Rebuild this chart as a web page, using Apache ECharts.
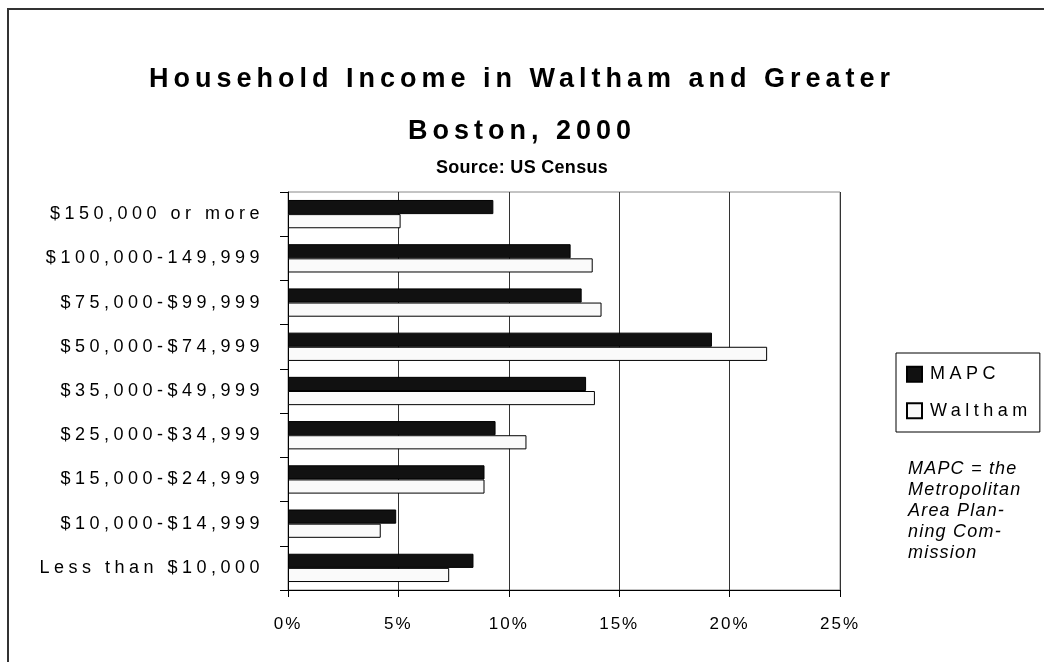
<!DOCTYPE html>
<html>
<head>
<meta charset="utf-8">
<script src="https://cdn.jsdelivr.net/npm/echarts@6/dist/echarts.min.js"></script>
<style>
  html, body { margin: 0; padding: 0; background: #fff; }
  #chart { width: 1044px; height: 662px; }
</style>
</head>
<body>
<div id="chart"></div>
<script>
// income brackets, bottom to top as echarts draws a category y axis
var categories = [
    'Less than $10,000',
    '$10,000-$14,999',
    '$15,000-$24,999',
    '$25,000-$34,999',
    '$35,000-$49,999',
    '$50,000-$74,999',
    '$75,000-$99,999',
    '$100,000-149,999',
    '$150,000 or more'
];
// share of households, percent
var mapcValues    = [8.4, 4.9, 8.9, 9.4, 13.5, 19.2, 13.3, 12.8, 9.3];
var walthamValues = [7.3, 4.2, 8.9, 10.8, 13.9, 21.7, 14.2, 13.8, 5.1];
var xTicks = [0, 5, 10, 15, 20, 25];

var FONT = '"Liberation Sans", Arial, sans-serif';

// the original (old excel export) draws its text widely spaced;
// canvas letterSpacing is set whenever zrender sets a font, so it is
// used both for measuring and for drawing
function spacingFor(font) {
    var size = +((/(\d+)px/.exec(font) || [0, 12])[1]);
    if (/italic/.test(font)) return 1.2;
    if (/bold/.test(font)) return size >= 24 ? 5 : 0.3;
    if (size === 18) return 4.5;
    return 2;
}
var fontProp = Object.getOwnPropertyDescriptor(CanvasRenderingContext2D.prototype, 'font');
if (fontProp && 'letterSpacing' in CanvasRenderingContext2D.prototype) {
    Object.defineProperty(CanvasRenderingContext2D.prototype, 'font', {
        get: fontProp.get,
        set: function (v) {
            fontProp.set.call(this, v);
            this.letterSpacing = spacingFor(v) + 'px';
        },
        configurable: true
    });
}

$chart = echarts.init(document.getElementById('chart'));

var option = {
    backgroundColor: '#fff',
    animation: false,
    title: [
        {
            text: 'Household Income in Waltham and Greater',
            left: 'center', top: 64, padding: 0,
            textStyle: { fontFamily: FONT, fontSize: 27, fontWeight: 'bold', color: '#000' }
        },
        {
            text: 'Boston, 2000',
            left: 'center', top: 116, padding: 0,
            textStyle: { fontFamily: FONT, fontSize: 27, fontWeight: 'bold', color: '#000' }
        },
        {
            text: 'Source: US Census',
            left: 'center', top: 159, padding: 0,
            textStyle: { fontFamily: FONT, fontSize: 18, fontWeight: 'bold', color: '#000' }
        }
    ],
    legend: {
        data: ['MAPC', 'Waltham'],
        orient: 'vertical',
        left: 896, top: 353,
        padding: [10, 8, 10, 10],
        itemGap: 14,
        itemWidth: 15, itemHeight: 15,
        icon: 'rect',
        borderColor: '#000', borderWidth: 1,
        textStyle: { fontFamily: FONT, fontSize: 18, color: '#000', padding: [0, 0, 0, 3] }
    },
    grid: {
        left: 288, right: 204, top: 192, bottom: 72,
        show: true, borderColor: '#888', borderWidth: 1
    },
    xAxis: {
        type: 'value',
        min: xTicks[0], max: xTicks[xTicks.length - 1], interval: 5,
        axisLine: { show: true, lineStyle: { color: '#000' } },
        axisTick: { show: true, length: 7, lineStyle: { color: '#000' } },
        splitLine: { show: true, lineStyle: { color: '#333', width: 1 } },
        axisLabel: {
            formatter: '{value}%', margin: 25,
            fontFamily: FONT, fontSize: 17, color: '#000'
        }
    },
    yAxis: {
        type: 'category',
        data: categories,
        axisLine: { lineStyle: { color: '#000' } },
        axisTick: { show: true, length: 8, lineStyle: { color: '#000' } },
        axisLabel: { margin: 24, fontFamily: FONT, fontSize: 18, color: '#000' }
    },
    series: [
        {
            name: 'MAPC', type: 'bar',
            data: mapcValues,
            barGap: '0%', barCategoryGap: '36%',
            itemStyle: { color: '#111', borderColor: '#000', borderWidth: 1 }
        },
        {
            name: 'Waltham', type: 'bar',
            data: walthamValues,
            itemStyle: { color: '#fafafa', borderColor: '#000', borderWidth: 1 }
        }
    ],
    graphic: [
        {
            type: 'rect', silent: true,
            shape: { x: 8, y: 9, width: 1100, height: 700 },
            style: { fill: 'none', stroke: '#333', lineWidth: 2 }
        },
        {
            type: 'text', left: 908, top: 458,
            style: {
                text: 'MAPC = the\nMetropolitan\nArea Plan-\nning Com-\nmission',
                fontFamily: FONT, fontSize: 18, fontStyle: 'italic',
                lineHeight: 21, fill: '#000'
            }
        }
    ]
};

$chart.setOption(option);
</script>
</body>
</html>
